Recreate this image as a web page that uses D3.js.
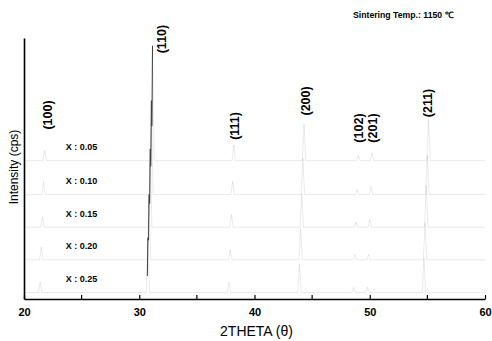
<!DOCTYPE html>
<html>
<head>
<meta charset="utf-8">
<script src="https://cdn.jsdelivr.net/npm/d3@7"></script>
<style>
  html, body { margin: 0; padding: 0; background: #fff; overflow: hidden; }
  svg { display: block; }
  text { font-family: "Liberation Sans", Arial, sans-serif; fill: #000; }
  .tick text { font-size: 11px; font-weight: bold; }
  .axis-label { font-size: 14px; }
  .y-label { font-size: 12px; }
  .hkl { font-size: 12.5px; font-weight: bold; }
  .comp { font-size: 9px; font-weight: bold; }
  .note { font-size: 8.7px; font-weight: bold; }
  .pattern { fill: none; stroke: #000; stroke-width: 0.6; stroke-opacity: 0.14; }
  .main-peak { fill: none; stroke: #111; stroke-width: 0.8; }
</style>
</head>
<body>
<svg width="492" height="341"></svg>
<script>
// compositions (one pattern each), stacked bottom-up by offset
const compositions = ["X : 0.05", "X : 0.10", "X : 0.15", "X : 0.20", "X : 0.25"];
const offsets = [53, 40, 27.5, 15, 2.5];
const peakShift = [0, -0.1, -0.2, -0.3, -0.4];

// reflections of the top pattern (2theta, deg)
const hkl = ["(100)", "(110)", "(111)", "(200)", "(102)", "(201)", "(211)"];
const peakPos = [21.8, 31.15, 38.2, 44.3, 49.0, 50.2, 55.1];
const labelPos = [22.07, 32.0, 38.32, 44.45, 49.11, 50.24, 55.08];
const labelLevel = [70.5, 99.6, 66.3, 75.9, 65.5, 65.5, 75.1];

// peak heights per composition, same order as hkl
const peakHeights = [
  [4, 44, 6, 14, 2, 3, 16],
  [5, 36, 5, 14, 2, 3, 15],
  [4, 30, 5, 13, 2, 3, 16],
  [5, 25, 4, 12, 2, 2, 14],
  [4, 21, 4, 11, 2, 2, 13]
];

const xTicks = [20, 30, 40, 50, 60];
const xMinorTicks = [25, 35, 45, 55];

const svg = d3.select("svg");
const width = +svg.attr("width");
const height = +svg.attr("height");
const margin = { top: 38, right: 7, bottom: 42, left: 24 };
const innerWidth = width - margin.left - margin.right;
const innerHeight = height - margin.top - margin.bottom;

const xScale = d3.scaleLinear().domain([20, 60]).range([0, innerWidth]);
const yScale = d3.scaleLinear().domain([0, 100]).range([innerHeight, 0]);

const g = svg.append("g")
  .attr("transform", `translate(${margin.left},${margin.top})`);

// patterns: flat background with narrow peaks
const halfWidth = 0.15;
const strongest = 1; // (110)
const line = d3.line()
  .x(d => xScale(d[0]))
  .y(d => yScale(d[1]));

compositions.forEach((c, i) => {
  const base = offsets[i];
  const pts = [[20, base]];
  peakPos.forEach((p, j) => {
    const pos = p + peakShift[i];
    pts.push([pos - halfWidth, base]);
    pts.push([pos, base + peakHeights[i][j]]);
    pts.push([pos + halfWidth, base]);
  });
  pts.push([60, base]);
  g.append("path").attr("class", "pattern").attr("d", line(pts));

  // the (110) reflection stands out in the scan
  const p0 = peakPos[strongest] + peakShift[i];
  g.append("path")
    .attr("class", "main-peak")
    .attr("d", line([
      [p0 - halfWidth * 0.3, base + peakHeights[i][strongest] * 0.3],
      [p0, base + peakHeights[i][strongest]]
    ]));

  g.append("text")
    .attr("class", "comp")
    .attr("x", xScale(25.0))
    .attr("y", yScale(base + 4))
    .attr("text-anchor", "middle")
    .text(c);
});

// axes
const xAxisG = g.append("g")
  .attr("transform", `translate(0,${innerHeight})`)
  .call(d3.axisBottom(xScale)
    .tickValues(xTicks)
    .tickSize(-4)
    .tickSizeOuter(0)
    .tickPadding(9));
xAxisG.select(".domain").attr("stroke-width", 1.6);
xAxisG.selectAll(".tick line").attr("stroke-width", 1.2);

g.append("g")
  .attr("transform", `translate(0,${innerHeight})`)
  .selectAll("line")
  .data(xMinorTicks)
  .join("line")
  .attr("x1", d => xScale(d))
  .attr("x2", d => xScale(d))
  .attr("y1", 0)
  .attr("y2", -4)
  .attr("stroke", "#000")
  .attr("stroke-width", 1.2);

const yAxisG = g.append("g").call(d3.axisLeft(yScale).tickValues([]).tickSizeOuter(0));
yAxisG.select(".domain").attr("stroke-width", 1.6);

svg.append("text")
  .attr("class", "axis-label")
  .attr("x", margin.left + innerWidth / 2 + 2)
  .attr("y", margin.top + innerHeight + 37)
  .attr("text-anchor", "middle")
  .text("2THETA (\u03b8)");

svg.append("g")
  .attr("transform", "translate(14,167) rotate(-90)")
  .append("text")
  .attr("class", "y-label")
  .attr("dominant-baseline", "central")
  .attr("text-anchor", "middle")
  .text("Intensity (cps)");

// reflection labels
hkl.forEach((h, j) => {
  g.append("g")
    .attr("transform", `translate(${xScale(labelPos[j])},${yScale(labelLevel[j])}) rotate(-90)`)
    .append("text")
    .attr("class", "hkl")
    .attr("dominant-baseline", "central")
    .attr("text-anchor", "middle")
    .text(h);
});

svg.append("text")
  .attr("class", "note")
  .attr("x", 353)
  .attr("y", 18)
  .text("Sintering Temp.: 1150 \u2103");
</script>
</body>
</html>
